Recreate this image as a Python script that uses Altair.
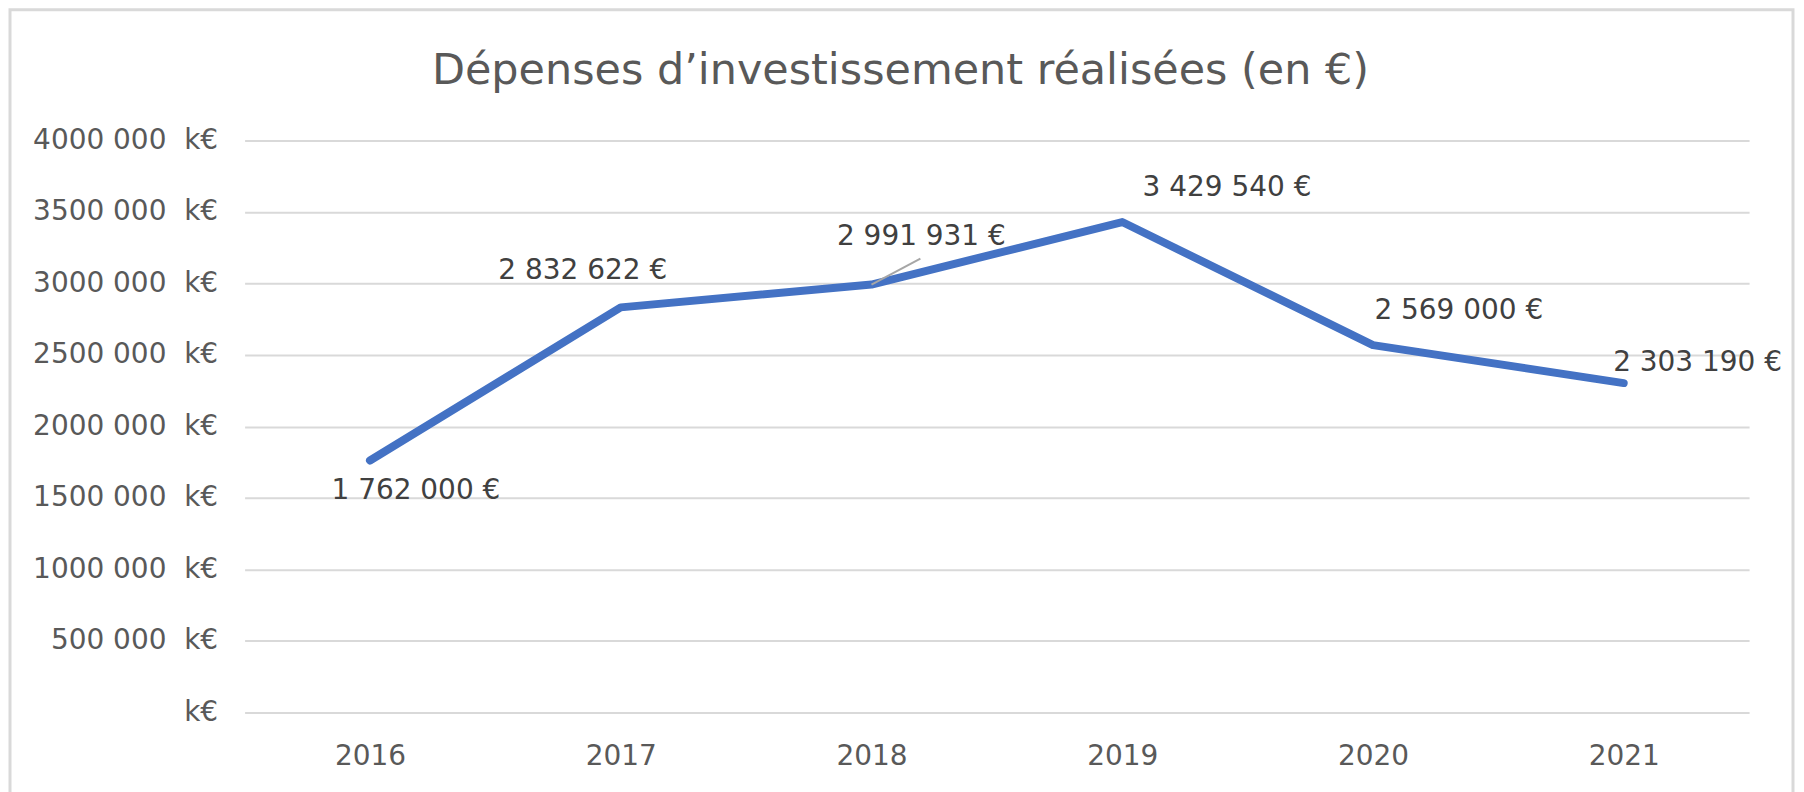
import altair as alt
import pandas as pd

title_text = "Dépenses d’investissement réalisées (en €)"
years = ["2016", "2017", "2018", "2019", "2020", "2021"]
values = [1762000, 2832622, 2991931, 3429540, 2569000, 2303190]
y_ticks = [0, 500000, 1000000, 1500000, 2000000, 2500000, 3000000, 3500000, 4000000]

def fmt(v):
    return f"{v:,}".replace(",", "\u00a0") + "\u00a0€"

df = pd.DataFrame({"year": years, "value": values, "label": [fmt(v) for v in values]})
title_df = pd.DataFrame({"t": [title_text]})

W, H = 1507, 573
FONT = "DejaVu Sans"
FS = 28

x = alt.X("year:N", title=None, sort=years,
          scale=alt.Scale(type="point", padding=0.5),
          axis=alt.Axis(ticks=False, domain=False, labelPadding=30, labelFontSize=FS,
                        labelColor="#595959", labelFont=FONT, labelAngle=0, grid=False))
y = alt.Y("value:Q", title=None,
          scale=alt.Scale(domain=[0, 4000000], nice=False),
          axis=alt.Axis(values=y_ticks, ticks=False, domain=False, labelPadding=27,
                        labelFontSize=FS, labelColor="#595959", labelFont=FONT,
                        labelLimit=400, gridColor="#d9d9d9", gridWidth=2,
                        labelExpr="datum.value == 0 ? 'k€' : format(datum.value/1000, 'd') + '\u00a0000\u00a0\u00a0k€'"))

base = alt.Chart(df)

border = alt.Chart(title_df).mark_rect(fill=None, stroke="#d9d9d9", strokeWidth=3).encode(
    x=alt.value(-235), x2=alt.value(1551), y=alt.value(-131), y2=alt.value(700)
)

title = alt.Chart(title_df).mark_text(fontSize=43, font=FONT, color="#595959",
                                      align="center", baseline="alphabetic").encode(
    x=alt.value(657), y=alt.value(-57), text="t:N"
)

line = base.mark_line(color="#4472C4", strokeWidth=8, strokeCap="round", strokeJoin="round").encode(x=x, y=y)

leader = base.mark_rule(color="#a6a6a6", strokeWidth=2, x2Offset=49, y2Offset=-26).encode(
    x=alt.X("year:N", sort=years), x2="year:N", y="value:Q", y2="value:Q"
).transform_filter(alt.datum.year == "2018")

offsets = {"2016": (46, 31), "2017": (-38, -36), "2018": (50, -48),
           "2019": (105, -34), "2020": (86, -34), "2021": (74, -20)}
labels = []
for yr, (dx, dy) in offsets.items():
    labels.append(
        base.mark_text(dx=dx, dy=dy, fontSize=FS, color="#404040", font=FONT,
                       align="center", baseline="middle").encode(
            x=alt.X("year:N", sort=years), y="value:Q", text="label:N"
        ).transform_filter(alt.datum.year == yr)
    )

chart = alt.layer(border, title, line, leader, *labels).properties(
    width=W, height=H,
    autosize=alt.AutoSizeParams(type="none"),
    padding={"left": 237, "top": 132, "right": 47, "bottom": 80},
).configure_view(stroke=None)

chart.save("out.html", embed_options={"renderer": "svg", "actions": False})
